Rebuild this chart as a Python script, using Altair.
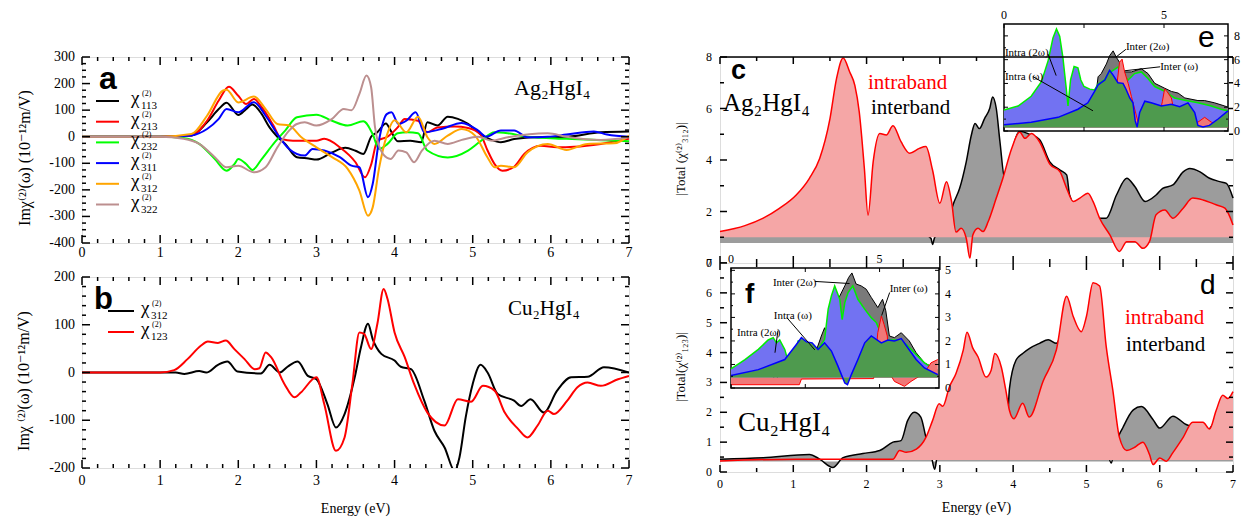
import altair as alt
import pandas as pd

SERIF = "Liberation Serif, DejaVu Serif, serif"
SANS = "Liberation Sans, DejaVu Sans, sans-serif"

# ---------------- panel a : Im chi(2) of Ag2HgI4 (x: eV, y: 1e-12 m/V) ----------------
A_CHI113 = [(0, 0), (1.0, 0), (1.4, 5), (1.6, 54), (1.75, 104), (1.85, 128), (2.0, 82), (2.1, 104), (2.18, 121),
            (2.3, 85), (2.4, 35), (2.5, 0), (2.6, -27), (2.75, -77), (2.9, -82), (3.0, -86), (3.2, -59), (3.37, -42),
            (3.5, -53), (3.6, -65), (3.7, 0), (3.78, 17), (3.89, 50), (3.95, 23), (4.04, -17), (4.2, -15), (4.34, -21),
            (4.42, 54), (4.55, 42), (4.68, 75), (4.81, 67), (4.94, 48), (5.1, 10), (5.24, -12), (5.36, -21),
            (5.53, -9), (5.79, -2), (6.2, 0), (6.64, 17), (7.0, 20)]
A_CHI213 = [(0, 0), (1.0, 0), (1.4, 5), (1.6, 60), (1.75, 136), (1.88, 188), (2.0, 154), (2.1, 123), (2.2, 142),
            (2.3, 111), (2.45, 42), (2.55, -8), (2.7, -15), (3.0, -15), (3.1, -8), (3.3, -40), (3.5, -96), (3.62, -153),
            (3.7, -105), (3.78, -15), (3.91, 0), (4.04, 35), (4.13, 67), (4.3, 60), (4.42, 17), (4.55, 35), (4.77, 38),
            (4.94, 33), (5.1, 8), (5.19, -52), (5.28, -103), (5.38, -128), (5.53, -113), (5.66, -65), (5.87, -34),
            (6.08, -40), (6.3, -38), (6.64, -27), (7.0, -8)]
A_CHI232 = [(0, 0), (1.0, 0), (1.3, -5), (1.5, -27), (1.7, -84), (1.85, -128), (1.95, -103), (2.0, -84), (2.1, -103),
            (2.18, -125), (2.3, -84), (2.45, -27), (2.6, 23), (2.75, 73), (3.0, 83), (3.2, 60), (3.4, 42), (3.6, 58),
            (3.72, 10), (3.8, -46), (3.91, -27), (4.04, 13), (4.17, 17), (4.3, 13), (4.42, -52), (4.68, -78),
            (4.94, -52), (5.1, -17), (5.28, 17), (5.45, 13), (5.7, 0), (6.2, -8), (7.0, -17)]
A_CHI311 = [(0, 0), (1.0, 0), (1.4, 5), (1.6, 29), (1.75, 67), (1.85, 104), (2.0, 92), (2.2, 130), (2.35, 79),
            (2.5, 10), (2.65, -46), (2.85, -71), (2.95, -46), (3.1, -52), (3.3, -77), (3.45, -109), (3.55, -115),
            (3.66, -228), (3.72, -178), (3.8, -15), (3.9, 85), (3.96, 92), (4.05, 48), (4.15, 60), (4.27, 92),
            (4.38, 17), (4.6, 29), (4.86, 52), (5.07, 23), (5.17, 0), (5.36, 23), (5.53, 23), (5.7, -2), (5.96, 0),
            (6.2, 8), (6.55, 20), (6.72, 8), (7.0, 0)]
A_CHI312 = [(0, 0), (1.0, 0), (1.4, 10), (1.6, 79), (1.8, 173), (1.85, 177), (2.0, 129), (2.2, 151), (2.35, 104),
            (2.5, 48), (2.65, 42), (2.8, 0), (3.0, -40), (3.2, -77), (3.4, -121), (3.55, -203), (3.66, -297),
            (3.72, -266), (3.8, -121), (3.9, 4), (4.0, 62), (4.15, 17), (4.3, 75), (4.42, -2), (4.51, -27), (4.68, 4),
            (4.86, 29), (5.03, 4), (5.19, -78), (5.28, -115), (5.36, -109), (5.53, -115), (5.7, -59), (5.96, -27),
            (6.2, -50), (6.47, -27), (6.81, -25), (7.0, 4)]
A_CHI322 = [(0, 0), (1.0, 0), (1.3, -8), (1.5, -27), (1.7, -77), (1.85, -115), (2.0, -109), (2.2, -134), (2.35, -115),
            (2.5, -40), (2.65, 23), (2.75, 48), (2.85, 54), (3.0, 42), (3.2, 67), (3.35, 104), (3.45, 100), (3.55, 161),
            (3.64, 230), (3.7, 186), (3.75, 35), (3.85, -65), (3.95, -84), (4.05, -52), (4.15, -59), (4.25, -96),
            (4.35, -52), (4.51, -15), (4.68, -27), (4.86, -12), (5.07, 0), (5.24, -15), (5.45, -2), (5.96, 13),
            (6.2, 0), (6.64, -12), (7.0, -2)]
A_NAMES = ["113", "213", "232", "311", "312", "322"]
A_COLORS = ["#000000", "#ff0000", "#00ff00", "#0000ff", "#ffa500", "#bc8f8f"]

# ---------------- panel b : Im chi(2) of Cu2HgI4 ----------------
B_CHI312 = [(0, 0), (1.2, 0), (1.31, -3), (1.5, 3), (1.59, 0), (1.74, 16), (1.86, 23), (1.99, 2), (2.29, -2),
            (2.4, 16), (2.53, 0), (2.63, 12), (2.76, 23), (2.89, -7), (3.0, -14), (3.14, -66), (3.25, -115),
            (3.36, -87), (3.49, -10), (3.57, 53), (3.66, 102), (3.72, 70), (3.83, 39), (4.0, 25), (4.08, 12),
            (4.21, 7), (4.38, -59), (4.51, -122), (4.64, -157), (4.77, -206), (4.83, -178), (4.91, -94), (5.0, -24),
            (5.1, 16), (5.19, 0), (5.32, -45), (5.53, -59), (5.62, -70), (5.74, -56), (5.91, -84), (6.08, -38),
            (6.26, -10), (6.47, -9), (6.68, 11), (7.0, 0)]
B_CHI123 = [(0, 0), (1.0, 0), (1.18, 5), (1.35, 28), (1.52, 56), (1.61, 65), (1.74, 62), (1.84, 67), (1.95, 49),
            (2.08, 28), (2.21, 7), (2.27, 9), (2.35, 42), (2.42, 32), (2.59, -24), (2.72, -52), (2.8, -42), (3.0, -10),
            (3.1, -66), (3.25, -164), (3.36, -136), (3.46, -24), (3.55, 84), (3.61, 81), (3.7, 49), (3.78, 102),
            (3.86, 175), (3.91, 154), (4.0, 84), (4.13, 32), (4.25, -24), (4.42, -84), (4.64, -111), (4.81, -56),
            (4.98, -61), (5.13, -28), (5.28, -38), (5.41, -84), (5.58, -118), (5.7, -136), (5.83, -111), (5.96, -80),
            (6.04, -87), (6.21, -59), (6.34, -31), (6.47, -21), (6.64, -28), (6.86, -14), (7.0, -7)]
B_NAMES = ["312", "123"]
B_COLORS = ["#000000", "#ff0000"]

# ---------------- panel c : |Total chi(2)_312| of Ag2HgI4 ----------------
C_INTER = [(0, 1.03), (0.34, 1.12), (1.0, 1.12), (2.0, 1.12), (2.8, 1.1), (2.88, 0.95), (2.9, 0.72), (2.93, 1.0),
           (3.0, 1.15), (3.1, 1.4), (3.18, 2.26), (3.27, 2.9), (3.36, 3.93), (3.43, 4.97), (3.48, 5.42), (3.54, 5.22),
           (3.61, 5.61), (3.68, 6.0), (3.72, 6.45), (3.77, 6.0), (3.82, 4.71), (3.89, 3.2), (3.95, 3.8), (4.0, 4.5),
           (4.09, 5.12), (4.23, 4.99), (4.36, 4.8), (4.5, 3.93), (4.64, 3.61), (4.73, 3.42), (4.77, 2.64), (4.86, 2.13),
           (4.95, 1.87), (5.09, 1.74), (5.27, 1.74), (5.41, 2.64), (5.55, 3.29), (5.66, 2.97), (5.8, 2.39),
           (5.95, 2.64), (6.04, 2.9), (6.18, 3.03), (6.32, 3.54), (6.41, 3.67), (6.55, 3.54), (6.68, 3.29),
           (6.82, 3.16), (6.91, 3.09), (7.0, 2.52)]
C_INTRA = [(0, 1.22), (0.34, 1.45), (0.59, 1.74), (0.81, 2.12), (1.04, 2.64), (1.22, 3.29), (1.36, 4.06), (1.5, 5.6),
           (1.59, 7.16), (1.68, 7.96), (1.77, 7.42), (1.84, 6.9), (1.9, 5.87), (1.97, 3.67), (2.02, 1.86), (2.09, 3.93),
           (2.18, 5.03), (2.27, 4.97), (2.36, 5.33), (2.47, 4.71), (2.59, 4.26), (2.72, 4.45), (2.81, 4.52),
           (2.9, 3.61), (3.0, 2.32), (3.09, 3.16), (3.16, 2.38), (3.22, 1.2), (3.29, 1.35), (3.36, 0.96), (3.41, 0.19),
           (3.45, 1.09), (3.52, 1.35), (3.59, 1.22), (3.66, 1.61), (3.77, 2.52), (3.86, 3.29), (3.98, 4.45),
           (4.09, 5.09), (4.16, 4.84), (4.25, 5.03), (4.36, 4.71), (4.5, 3.84), (4.64, 3.54), (4.73, 2.9), (4.82, 2.39),
           (4.91, 2.52), (5.02, 2.71), (5.09, 2.39), (5.18, 1.74), (5.32, 1.09), (5.45, 0.45), (5.55, 0.83),
           (5.66, 0.83), (5.77, 0.57), (5.86, 0.83), (5.95, 1.87), (6.07, 2.06), (6.18, 1.74), (6.32, 2.13),
           (6.45, 2.52), (6.59, 2.45), (6.77, 2.26), (6.89, 2.13), (7.0, 1.48)]
C_BASE_INTER = 0.78
C_BASE_INTRA = 1.0

# ---------------- panel d : |Total chi(2)_123| of Cu2HgI4 ----------------
D_INTER = [(0, 0.43), (0.59, 0.48), (1.22, 0.59), (1.36, 0.43), (1.54, 0.15), (1.68, 0.48), (1.95, 0.62),
           (2.18, 0.72), (2.36, 1.0), (2.47, 1.05), (2.56, 1.72), (2.65, 2.0), (2.74, 1.84), (2.81, 1.16), (2.88, 0.59),
           (2.93, 0.09), (2.97, 0.59), (3.1, 0.6), (3.5, 0.6), (3.57, 0.45), (3.62, 0.6), (3.9, 0.7), (3.95, 2.8),
           (4.04, 3.75), (4.13, 3.97), (4.23, 4.15), (4.36, 4.31), (4.48, 4.43), (4.59, 4.31), (4.66, 4.54),
           (4.75, 3.5), (5.2, 3.5), (5.3, 0.6), (5.34, 0.3), (5.38, 0.8), (5.5, 1.5), (5.64, 2.08), (5.75, 2.19),
           (5.91, 1.75), (6.0, 1.47), (6.18, 1.87), (6.36, 1.59), (6.45, 1.5), (6.64, 1.39), (6.77, 1.75),
           (6.86, 1.97), (7.0, 2.08)]
D_INTRA = [(0, 0.37), (1.04, 0.43), (2.36, 0.43), (2.45, 0.72), (2.54, 0.66), (2.68, 0.77), (2.81, 1.16), (2.9, 1.72),
           (2.99, 2.29), (3.04, 2.2), (3.13, 2.85), (3.22, 3.3), (3.32, 4.09), (3.37, 4.68), (3.45, 4.15), (3.52, 3.86),
           (3.63, 3.18), (3.7, 3.41), (3.75, 3.97), (3.84, 3.5), (3.9, 2.74), (3.95, 2.06), (4.01, 1.78), (4.13, 2.3),
           (4.22, 1.84), (4.41, 3.05), (4.59, 4.09), (4.73, 5.89), (4.82, 5.21), (4.93, 4.7), (5.0, 5.21),
           (5.09, 6.34), (5.18, 6.23), (5.27, 4.2), (5.36, 2.74), (5.45, 1.16), (5.55, 0.72), (5.66, 0.83),
           (5.77, 1.0), (5.86, 0.59), (5.91, 0.25), (6.0, 0.47), (6.09, 0.36), (6.18, 0.65), (6.32, 1.16),
           (6.45, 1.67), (6.59, 1.67), (6.68, 1.44), (6.77, 2.06), (6.86, 2.57), (6.93, 2.46), (7.0, 2.69)]
D_BASE_INTER = 0.35
D_BASE_INTRA = 0.4

# ---------------- inset e (Ag2HgI4 decomposition) ----------------
E_INTRA_2W = [(0, 1.77), (0.44, 2.1), (0.85, 2.92), (1.17, 4.15), (1.38, 5.92), (1.53, 7.83), (1.64, 8.59),
              (1.74, 7.97), (1.84, 6.2), (1.95, 3.47), (2.0, 2.1), (2.08, 4.29), (2.19, 5.43), (2.31, 5.32), (2.4, 4.29),
              (2.5, 3.74), (2.68, 3.52), (2.83, 3.45), (2.94, 3.95), (3.15, 4.35), (3.3, 5.1), (3.35, 5.0),
              (3.56, 5.37), (3.72, 4.7), (3.88, 4.29), (4.08, 4.83), (4.29, 4.97), (4.5, 4.42), (4.71, 3.74),
              (5.02, 3.33), (5.33, 2.78), (5.65, 2.59), (6.06, 2.37), (6.48, 2.1), (6.79, 1.83), (7.0, 1.69)]
E_INTRA_W = [(0, 0.52), (0.85, 0.74), (1.69, 1.15), (2.31, 1.83), (2.62, 2.37), (2.83, 3.33), (2.94, 3.88),
             (3.15, 4.29), (3.3, 5.1), (3.41, 4.7), (3.56, 4.06), (3.72, 4.01), (3.82, 3.47), (3.93, 2.78), (4.03, 2.37),
             (4.1, 0.87), (4.16, 0.33), (4.24, 1.56), (4.4, 2.51), (4.6, 2.37), (4.92, 2.1), (5.23, 2.24), (5.49, 2.05),
             (5.75, 2.37), (5.96, 1.56), (6.06, 0.47), (6.22, 0.33), (6.42, 0.47), (6.69, 1.01), (7.0, 1.69)]
E_INTER_2W = [(0, 1.3), (1.0, 1.35), (2.0, 1.42), (2.8, 1.5), (2.94, 4.56), (3.04, 4.83), (3.2, 5.64), (3.3, 6.33),
              (3.41, 6.74), (3.51, 6.2), (3.61, 5.78), (3.77, 4.97), (3.98, 4.97), (4.29, 5.24), (4.5, 4.83),
              (4.71, 4.01), (5.02, 3.6), (5.23, 3.33), (5.44, 3.19), (5.65, 2.78), (6.06, 2.56), (6.27, 2.56),
              (6.58, 2.37), (6.9, 2.1), (7.0, 2.0)]
E_INTER_W = [(0, 0.43), (3.4, 0.43), (3.51, 3.47), (3.61, 5.78), (3.69, 6.05), (3.77, 4.97), (3.88, 4.01),
             (3.98, 2.92), (4.19, 0.74), (4.4, 0.47), (4.8, 0.5), (4.95, 2.5), (5.02, 3.54), (5.1, 3.3), (5.23, 2.78),
             (5.35, 1.2), (5.44, 0.47), (6.06, 0.74), (6.27, 1.15), (6.48, 0.74), (7.0, 0.33)]
E_BASE = 0.3
E_NOTES = [("Intra (2ω)", 0.03, 6.3), ("Intra (ω)", 0.03, 4.26), ("Inter (2ω)", 3.81, 6.79), ("Inter (ω)", 4.88, 5.16)]
E_LEADERS = [(1.38, 6.46, 1.63, 4.66), (0.9, 4.58, 2.78, 1.7), (3.81, 6.87, 3.5, 6.22), (4.88, 5.4, 3.78, 5.07)]

# ---------------- inset f (Cu2HgI4 decomposition) ----------------
F_INTRA_2W = [(0, 0.81), (0.47, 1.21), (0.92, 1.64), (1.25, 2.04), (1.42, 2.14), (1.53, 1.92), (1.64, 2.04),
              (1.81, 1.64), (1.92, 1.14), (2.15, 1.33), (2.26, 2.0), (2.43, 2.04), (2.6, 1.85), (2.93, 1.64),
              (3.15, 2.07), (3.27, 3.35), (3.38, 3.92), (3.49, 4.34), (3.66, 3.77), (3.74, 2.91), (3.83, 3.63),
              (3.94, 4.06), (4.1, 4.34), (4.27, 3.77), (4.5, 3.35), (4.72, 2.99), (4.89, 2.78), (5.06, 2.28),
              (5.28, 2.04), (5.62, 2.04), (5.9, 1.85), (6.17, 1.5), (6.51, 1.07), (6.96, 0.71)]
F_INTRA_W = [(0, 0.53), (0.92, 0.78), (1.81, 1.21), (2.2, 1.85), (2.37, 2.14), (2.54, 1.96), (2.73, 1.92),
             (2.93, 1.64), (3.15, 1.92), (3.38, 1.57), (3.6, 0.93), (3.83, 0.21), (3.92, 0.14), (4.05, 0.57),
             (4.27, 1.21), (4.5, 1.92), (4.72, 2.21), (5.06, 1.92), (5.28, 2.04), (5.5, 2.0), (5.73, 2.1), (5.95, 1.71),
             (6.23, 1.21), (6.51, 0.85), (6.96, 0.57)]
F_INTER_2W = [(0, 0.5), (1.4, 0.5), (1.5, 0.36), (1.6, 0.5), (2.9, 1.7), (3.04, 2.21), (3.15, 2.56), (3.27, 2.07),
              (3.5, 3.5), (3.83, 4.34), (3.96, 4.7), (4.07, 4.89), (4.21, 4.42), (4.38, 4.34), (4.55, 4.2),
              (4.72, 3.85), (4.94, 3.42), (5.1, 3.77), (5.21, 3.28), (5.33, 2.21), (5.5, 2.14), (5.73, 2.35),
              (6.0, 2.0), (6.23, 1.5), (6.51, 1.07), (6.96, 0.76)]
F_INTER_W = [(0, 0.14), (2.3, 0.14), (2.37, 0.38), (4.8, 0.4), (4.94, 2.35), (5.06, 3.06), (5.15, 2.71), (5.26, 2.21),
             (5.33, 0.64), (5.5, 0.28), (5.84, 0.07), (6.06, 0.28), (6.51, 0.64), (6.73, 1.07), (6.96, 1.21)]
F_BASE = 0.45
F_NOTES = [("Inter (2ω)", 1.41, 4.32), ("Inter (ω)", 5.34, 4.06), ("Intra (ω)", 1.44, 2.95), ("Intra (2ω)", 0.2, 2.22)]
F_LEADERS = [(2.82, 4.53, 3.99, 4.44), (5.34, 4.06, 5.07, 3.08), (1.88, 2.99, 2.82, 1.62), (1.58, 2.44, 1.48, 1.5)]

# ---------------- colours ----------------
PINK = "#f5a6a6"
GREY = "#9c9c9c"
I_BLUE = "#7272f2"
I_GREEN = "#4e9a4e"
I_RED = "#f07878"
I_GREY = "#7a7a7a"

DUMMY = pd.DataFrame({"k": [0]})


def rng(a, b, step):
    n = int(round((b - a) / step))
    return [round(a + i * step, 6) for i in range(n + 1)]


def minor(a, b, step, major_step):
    return [v for v in rng(a, b, step) if abs(v / major_step - round(v / major_step)) > 1e-6]


def xlabels(values, scale, y, size, baseline="top"):
    df = pd.DataFrame({"v": values, "t": [f"{v:g}" for v in values]})
    return alt.Chart(df).mark_text(align="center", baseline=baseline, font=SERIF, fontSize=size,
                                   color="black").encode(
        x=alt.X("v:Q", scale=scale, axis=None), y=alt.value(y), text="t:N")


def ylabels(values, scale, x, size, align="right"):
    df = pd.DataFrame({"v": values, "t": [f"{v:g}" for v in values]})
    return alt.Chart(df).mark_text(align=align, baseline="middle", font=SERIF, fontSize=size,
                                   color="black").encode(
        y=alt.Y("v:Q", scale=scale, axis=None), x=alt.value(x), text="t:N")


def seg(x0, y0, x1, y1, width):
    return alt.Chart(DUMMY).mark_rule(color="black", strokeWidth=width).encode(
        x=alt.value(x0), x2=alt.value(x1), y=alt.value(y0), y2=alt.value(y1))


def frame_ticks(xdom, ydom, xr, yr, xmaj, xmin, ymaj, ymin, big, small, width=1.5):
    """Inward tick marks on the four sides of a frame whose pixel extent is xr (left,right), yr (bottom,top);
    each tick is placed with the same linear mapping the frame's scales use."""
    (d0, d1), (e0, e1) = xdom, ydom
    (left, right), (bottom, top) = xr, yr

    def mx(v):
        return left + (v - d0) / (d1 - d0) * (right - left)

    def my(v):
        return bottom + (v - e0) / (e1 - e0) * (top - bottom)

    out = []
    for vals, size in ((xmaj, big), (xmin, small)):
        for v in vals:
            p = mx(v)
            out.append(seg(p, bottom, p, bottom - size, width))
            out.append(seg(p, top, p, top + size, width))
    for vals, size in ((ymaj, big), (ymin, small)):
        for v in vals:
            p = my(v)
            out.append(seg(left, p, left + size, p, width))
            out.append(seg(right, p, right - size, p, width))
    return out


def line_layer(pairs, color, xs, ys, width=2):
    return alt.Chart(pd.DataFrame(pairs, columns=["x", "y"])).mark_line(
        color=color, strokeWidth=width, interpolate="monotone", clip=True).encode(
        x=alt.X("x:Q", scale=xs, axis=None), y=alt.Y("y:Q", scale=ys, axis=None))


def area_layer(pairs, xs, ys, base, fill, stroke, sw, interp):
    return alt.Chart(pd.DataFrame(pairs, columns=["x", "y"])).mark_area(
        interpolate=interp, color=fill, fillOpacity=1,
        line=alt.OverlayMarkDef(color=stroke, strokeWidth=sw, interpolate=interp)).encode(
        x=alt.X("x:Q", scale=xs, axis=None), y=alt.Y("y:Q", scale=ys, axis=None), y2=alt.datum(base))


def txt(text, x, y, size, color="black", font=SERIF, weight="normal", align="left", angle=0):
    return alt.Chart(DUMMY).mark_text(text=text, font=font, fontSize=size, fontWeight=weight, color=color,
                                      align=align, baseline="alphabetic", angle=angle).encode(
        x=alt.value(x), y=alt.value(y))


def spacer(x0, x1, y):
    # invisible rule that fixes the bounding box used by the concat layout
    return alt.Chart(DUMMY).mark_rule(stroke="white", strokeOpacity=0, strokeWidth=1).encode(
        x=alt.value(x0), x2=alt.value(x1), y=alt.value(y))


def legend_layers(names, colors, x0, x1, y0, dy, tx):
    out = []
    for i, (n, c) in enumerate(zip(names, colors)):
        y = y0 + i * dy
        out.append(alt.Chart(DUMMY).mark_rule(color=c, strokeWidth=2).encode(
            x=alt.value(x0), x2=alt.value(x1), y=alt.value(y)))
        out.append(txt("χ", tx, y + 3, 19))
        out.append(txt("(2)", tx + 11, y - 5, 8))
        out.append(txt(n, tx + 10, y + 8, 11))
    return out


def inset(xs, ys, ydom, edges, inter2w, interw, intra2w, intraw, base, notes, leaders, ymaj, ymin):
    left, right, top, bottom = edges
    bgl = alt.Chart(pd.DataFrame({"x": [0], "x2": [7], "y": [ydom[0]], "y2": [ydom[1]]})).mark_rect(
        fill="white", stroke="black", strokeWidth=1.5).encode(
        x=alt.X("x:Q", scale=xs, axis=None), x2="x2:Q", y=alt.Y("y:Q", scale=ys, axis=None), y2="y2:Q")
    l_black = area_layer(inter2w, xs, ys, base, I_GREY, "black", 1, "linear")
    l_blue = area_layer(intra2w, xs, ys, base, I_BLUE, "#00ee00", 1.5, "linear")
    l_red = area_layer(interw, xs, ys, base, I_RED, "red", 1, "linear")
    l_green = area_layer(intraw, xs, ys, base, I_GREEN, "#0000ff", 1.5, "linear")
    ldf = pd.DataFrame(leaders, columns=["x", "y", "x2", "y2"])
    l_lead = alt.Chart(ldf).mark_rule(color="black", strokeWidth=1).encode(
        x=alt.X("x:Q", scale=xs, axis=None), y=alt.Y("y:Q", scale=ys, axis=None), x2="x2:Q", y2="y2:Q")
    ndf = pd.DataFrame(notes, columns=["t", "x", "y"])
    l_notes = alt.Chart(ndf).mark_text(align="left", baseline="alphabetic", font=SERIF, fontSize=11,
                                       color="black").encode(
        x=alt.X("x:Q", scale=xs, axis=None), y=alt.Y("y:Q", scale=ys, axis=None), text="t:N")
    ticks = frame_ticks([0, 7], ydom, (left, right), (bottom, top), [0, 2.5, 5], [], ymaj, ymin, 4, 2, 1)
    labels = [xlabels([0, 5], xs, top - 2, 12, baseline="bottom"), ylabels(ymaj, ys, right + 6, 12, align="left")]
    return alt.layer(bgl, l_black, l_blue, l_red, l_green, l_lead, *ticks, l_notes, *labels)


TOP_BOUND = -48

# ====================== panel a ======================
AW, AH = 547, 186
A_XS = alt.Scale(domain=[0, 7], nice=False, zero=False)
A_YS = alt.Scale(domain=[-400, 300], nice=False, zero=False)
a_layers = [line_layer(s, c, A_XS, A_YS) for s, c in
            zip([A_CHI113, A_CHI213, A_CHI232, A_CHI311, A_CHI312, A_CHI322], A_COLORS)]
a_ticks = frame_ticks([0, 7], [-400, 300], (0, AW), (AH, 0), rng(0, 7, 1), minor(0, 7, 0.2, 1),
                      rng(-400, 300, 100), minor(-400, 300, 25, 100), 8, 4)
panel_a = alt.layer(
    spacer(-73, 552, TOP_BOUND),
    *a_layers, *a_ticks,
    xlabels(rng(0, 7, 1), A_XS, AH + 3, 14),
    ylabels(rng(-400, 300, 100), A_YS, -7, 14),
    txt("Imχ⁽²⁾(ω) (10⁻¹²m/V)", -52, 101, 16, align="center", angle=270),
    *legend_layers(A_NAMES, A_COLORS, 14, 37, 44, 20.7, 49),
    txt("a", 17, 32, 32, font=SANS, weight="bold"),
    txt("Ag₂HgI₄", 432, 38, 22),
).properties(width=AW, height=AH)

# ====================== panel b ======================
BW, BH = 547, 191
B_XS = alt.Scale(domain=[0, 7], nice=False, zero=False)
B_YS = alt.Scale(domain=[-200, 200], nice=False, zero=False)
b_layers = [line_layer(s, c, B_XS, B_YS) for s, c in zip([B_CHI312, B_CHI123], B_COLORS)]
b_ticks = frame_ticks([0, 7], [-200, 200], (0, BW), (BH, 0), rng(0, 7, 1), minor(0, 7, 0.2, 1),
                      rng(-200, 200, 100), minor(-200, 200, 20, 100), 8, 4)
panel_b = alt.layer(
    *b_layers, *b_ticks,
    xlabels(rng(0, 7, 1), B_XS, BH + 6, 14),
    ylabels(rng(-200, 200, 100), B_YS, -7, 14),
    txt("Energy (eV)", BW / 2, BH + 45, 14, align="center"),
    txt("Imχ ⁽²⁾(ω) (10⁻¹²m/V)", -53, 104, 16, align="center", angle=270),
    *legend_layers(B_NAMES, B_COLORS, 26, 52, 34, 21, 59),
    txt("b", 12, 32, 31, font=SANS, weight="bold"),
    txt("Cu₂HgI₄", 426, 38, 21),
).properties(width=BW, height=BH)

# ====================== panel c (+ inset e) ======================
CW, CH = 513, 206
C_XS = alt.Scale(domain=[0, 7], nice=False, zero=False)
C_YS = alt.Scale(domain=[0, 8], nice=False, zero=False)
c_ticks = frame_ticks([0, 7], [0, 8], (0, CW), (CH, 0), rng(0, 7, 1), minor(0, 7, 0.5, 1),
                      rng(0, 8, 2), [1, 3, 5, 7], 7, 4)
main_c = alt.layer(
    area_layer(C_INTER, C_XS, C_YS, C_BASE_INTER, GREY, "black", 1.5, "monotone"),
    area_layer(C_INTRA, C_XS, C_YS, C_BASE_INTRA, PINK, "red", 1.5, "monotone"),
    *c_ticks,
    ylabels(rng(0, 8, 2), C_YS, -8, 12),
)

E_XS = alt.Scale(domain=[0, 7], range=[284, 508], nice=False, zero=False)
E_YS = alt.Scale(domain=[0, 9], range=[74, -33], nice=False, zero=False)
inset_e = inset(E_XS, E_YS, [0, 9], (284, 508, -33, 74), E_INTER_2W, E_INTER_W, E_INTRA_2W, E_INTRA_W, E_BASE,
                E_NOTES, E_LEADERS, [0, 2, 4, 6, 8], [1, 3, 5, 7])

panel_c = alt.layer(
    spacer(-70, 0, TOP_BOUND),
    main_c, inset_e,
    alt.Chart(DUMMY).mark_rule(color="black", strokeWidth=1.5).encode(
        x=alt.value(0), x2=alt.value(CW), y=alt.value(0)),
    txt("|Total (χ⁽²⁾₃₁₂)|", -35, 102, 13, align="center", angle=270),
    txt("c", 11, 22, 27, font=SANS, weight="bold"),
    txt("Ag₂HgI₄", 3, 54, 25),
    txt("intraband", 148, 32, 21, color="red"),
    txt("interband", 151, 57, 21),
    txt("e", 478, -10, 30, font=SANS),
).resolve_scale(x="independent", y="independent").properties(width=CW, height=CH)

# ====================== panel d (+ inset f) ======================
DW, DH = 513, 209
D_XS = alt.Scale(domain=[0, 7], nice=False, zero=False)
D_YS = alt.Scale(domain=[0, 7], nice=False, zero=False)
d_ticks = frame_ticks([0, 7], [0, 7], (0, DW), (DH, 0), rng(0, 7, 1), minor(0, 7, 0.5, 1),
                      rng(0, 7, 1), minor(0, 7, 0.5, 1), 7, 4)
main_d = alt.layer(
    area_layer(D_INTER, D_XS, D_YS, D_BASE_INTER, GREY, "black", 1.5, "monotone"),
    area_layer(D_INTRA, D_XS, D_YS, D_BASE_INTRA, PINK, "red", 1.5, "monotone"),
    *d_ticks,
    xlabels(rng(0, 7, 1), D_XS, DH + 7, 12),
    ylabels(rng(0, 7, 1), D_YS, -8, 12),
)

F_XS = alt.Scale(domain=[0, 7], range=[11, 219], nice=False, zero=False)
F_YS = alt.Scale(domain=[0, 5.1], range=[125, 5], nice=False, zero=False)
inset_f = inset(F_XS, F_YS, [0, 5.1], (11, 219, 5, 125), F_INTER_2W, F_INTER_W, F_INTRA_2W, F_INTRA_W, F_BASE,
                F_NOTES, F_LEADERS, rng(0, 5, 1), minor(0, 5, 0.5, 1))

panel_d = alt.layer(
    main_d, inset_f,
    txt("Energy (eV)", DW / 2, DH + 40, 14, align="center"),
    txt("|Total(χ⁽²⁾₁₂₃)|", -35, 104, 13, align="center", angle=270),
    txt("f", 25, 40, 28, font=SANS, weight="bold"),
    txt("d", 480, 31, 28, font=SANS),
    txt("intraband", 405, 61, 21, color="red"),
    txt("interband", 406, 88, 21),
    txt("Cu₂HgI₄", 18, 168, 27),
).resolve_scale(x="independent", y="independent").properties(width=DW, height=DH)

left = alt.vconcat(panel_a, panel_b, spacing=34, bounds="flush")
right = alt.vconcat(panel_c, panel_d, spacing=0, bounds="flush")
chart = alt.hconcat(left, right, spacing=14).properties(
    padding={"left": 0, "top": 0, "right": 0, "bottom": 0}
).configure_view(stroke="black", strokeWidth=1.5).configure(background="white")

chart.save("out.html", embed_options={"renderer": "svg", "actions": False})
